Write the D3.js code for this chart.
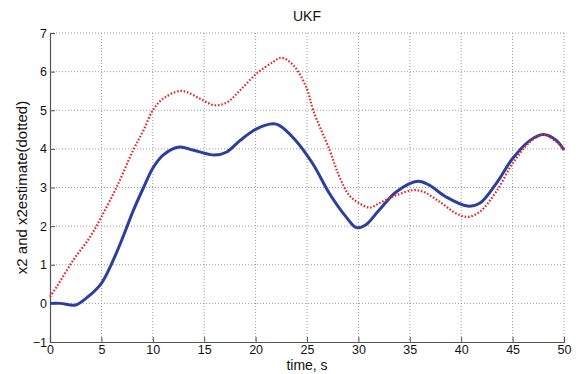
<!DOCTYPE html>
<html><head><meta charset="utf-8">
<script src="https://cdn.jsdelivr.net/npm/d3@7"></script>
<style>body{margin:0;background:#fff;}svg{display:block;font-family:"Liberation Sans",Arial,sans-serif;}</style>
</head><body><svg id="c" width="581" height="374"></svg>
<script>
const title = "UKF";
const xLabel = "time, s";
const yLabel = "x2 and x2estimate(dotted)";
const xTicks = [0,5,10,15,20,25,30,35,40,45,50];
const yTicks = [-1,0,1,2,3,4,5,6,7];

const x2Time = [0,1,2.5,3.5,5,6,7.1,8.1,9.1,10,11,12.6,13.9,16,17.2,18.5,20.1,21.7,22.3,23.9,25.55,27.2,28.8,29.8,30.7,32,33.7,35.8,36.9,38.5,40.6,41.8,43.4,45,46.7,48,49.25,50];
const x2Value = [0,0,-0.04,0.13,0.52,1.03,1.72,2.4,3.0,3.5,3.84,4.05,3.97,3.84,3.92,4.22,4.52,4.65,4.61,4.22,3.62,2.84,2.24,1.96,2.03,2.41,2.89,3.16,3.06,2.76,2.52,2.59,3.1,3.75,4.22,4.37,4.22,3.97];

const estTime = [0,0.65,2.27,3.9,5,6.5,8.1,9.1,10,11,12.6,13.3,14.6,16,17.2,18.5,20.1,21.7,22.5,23.7,25,25.6,27.2,28.15,29.1,30.1,31.1,32,33.7,35.3,36.3,37.9,39.5,40.6,41.8,43.4,45,46.7,48,49.25,50];
const estValue = [0.17,0.43,1.12,1.72,2.24,3.02,3.97,4.48,5.0,5.3,5.5,5.47,5.3,5.13,5.2,5.52,5.95,6.25,6.36,6.16,5.55,5.0,3.97,3.28,2.8,2.59,2.48,2.59,2.8,2.93,2.89,2.63,2.33,2.24,2.37,2.89,3.62,4.18,4.37,4.18,4.0];

const svg = d3.select("#c");
const L = 50, R = 564, T = 33, B = 342;
const x = d3.scaleLinear().domain([0,50]).range([L,R]);
const y = d3.scaleLinear().domain([-1,7]).range([B,T]);

// grid
const g = svg.append("g");
g.selectAll(".gx").data(xTicks.filter(d=>d>0)).join("line")
  .attr("x1",d=>x(d)).attr("x2",d=>x(d)).attr("y1",T).attr("y2",B)
  .attr("stroke","#9a9a9a").attr("stroke-width",1).attr("stroke-dasharray","1,2");
g.selectAll(".gy").data(yTicks.filter(d=>d>-1)).join("line")
  .attr("x1",L).attr("x2",R).attr("y1",d=>y(d)).attr("y2",d=>y(d))
  .attr("stroke","#9a9a9a").attr("stroke-width",1).attr("stroke-dasharray","1,2");

// axes
const xAxis = d3.axisBottom(x).tickValues(xTicks).tickSize(-5).tickPadding(3).tickFormat(d3.format("d"));
const yAxis = d3.axisLeft(y).tickValues(yTicks).tickSize(-5).tickPadding(3).tickFormat(d3.format("d"));
const ax = svg.append("g").attr("transform",`translate(0,${B})`).call(xAxis);
const ay = svg.append("g").attr("transform",`translate(${L},0)`).call(yAxis);
[ax,ay].forEach(a=>{
  a.select(".domain").attr("stroke","#555").attr("stroke-width",1.2);
  a.selectAll(".tick line").attr("stroke","#555");
  a.selectAll("text").attr("fill","#111").style("font-size","12.5px").style("font-family","'Liberation Sans',Arial,sans-serif");
});
ax.selectAll(".tick").filter(d=>d===50).select("line").remove();
ay.selectAll(".tick").filter(d=>d===7).select("line").remove();

// lines
const line = d3.line().x(d=>x(d[0])).y(d=>y(d[1])).curve(d3.curveCatmullRom.alpha(0.5));
svg.append("path").datum(x2Time.map((t,i)=>[t,x2Value[i]]))
  .attr("d",line).attr("fill","none").attr("stroke","#2b3f9e").attr("stroke-width",3);
svg.append("path").datum(estTime.map((t,i)=>[t,estValue[i]]))
  .attr("d",line).attr("fill","none").attr("stroke","#e0282d").attr("stroke-width",2.2).attr("stroke-dasharray","1.6,1.8");

// labels
svg.append("text").attr("x",307).attr("y",21).attr("text-anchor","middle")
  .style("font-size","14px").attr("fill","#111").text(title);
svg.append("text").attr("x",307).attr("y",370).attr("text-anchor","middle")
  .style("font-size","14px").attr("fill","#111").text(xLabel);
svg.append("text").attr("transform",`translate(27,${(T+B)/2}) rotate(-90)`).attr("text-anchor","middle")
  .style("font-size","15px").attr("fill","#111").text(yLabel);
</script></body></html>
